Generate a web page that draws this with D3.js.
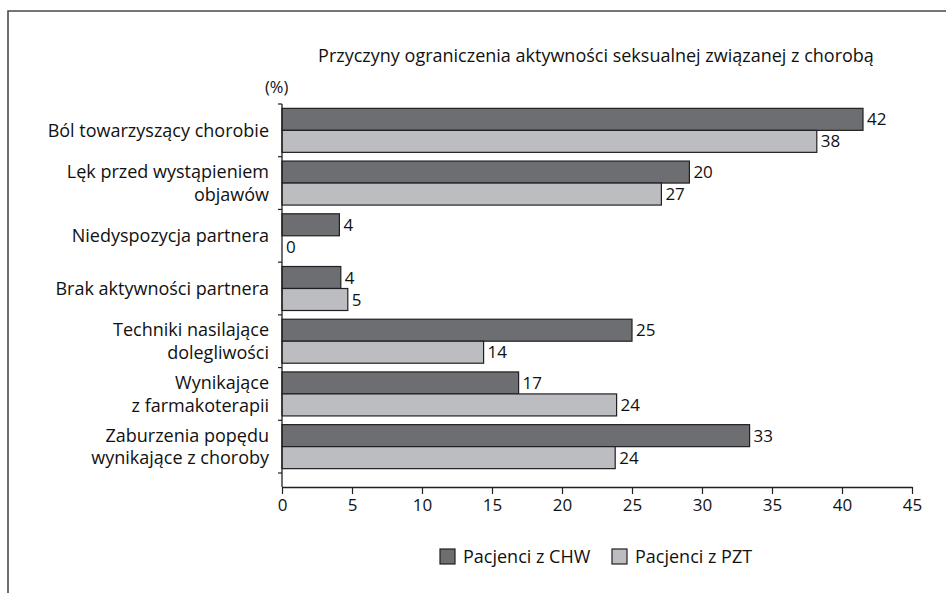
<!DOCTYPE html>
<html>
<head>
<meta charset="utf-8">
<script src="https://cdn.jsdelivr.net/npm/d3@7"></script>
<style>
  html, body { margin: 0; padding: 0; background: #fff; }
  svg { display: block; font-family: "Open Sans", "Noto Sans", sans-serif; }
</style>
</head>
<body>
<svg id="chart" width="946" height="593"></svg>
<script>
const categories = [
  "Ból towarzyszący chorobie",
  "Lęk przed wystąpieniem\nobjawów",
  "Niedyspozycja partnera",
  "Brak aktywności partnera",
  "Techniki nasilające\ndolegliwości",
  "Wynikające\nz farmakoterapii",
  "Zaburzenia popędu\nwynikające z choroby"
];
const seriesNames = ["Pacjenci z CHW", "Pacjenci z PZT"];
const chwValues = [41.5, 29.1, 4.1, 4.2, 25.0, 16.9, 33.4];
const pztValues = [38.2, 27.1, 0, 4.7, 14.4, 23.9, 23.8];
const chwLabels = ["42", "20", "4", "4", "25", "17", "33"];
const pztLabels = ["38", "27", "0", "5", "14", "24", "24"];
const xTicks = [0, 5, 10, 15, 20, 25, 30, 35, 40, 45];
const title = "Przyczyny ograniczenia aktywności seksualnej związanej z chorobą";
const unitLabel = "(%)";

const colors = ["#6d6e71", "#bcbdc0"];
const stroke = "#231f20";
const textSize = 18;
const numSize = 17;

const svg = d3.select("#chart");

// frame
svg.append("path")
  .attr("d", "M8,593 V11 H946")
  .attr("fill", "none").attr("stroke", "#4a4a4a").attr("stroke-width", 1.6);

const x = d3.scaleLinear().domain([0, 45]).range([282, 912]);
const y = d3.scaleBand().domain(categories).range([104, 473]);
const barH = 22;
const axisY = 487;

// title
svg.append("text").attr("x", 596).attr("y", 62).attr("text-anchor", "middle")
  .attr("font-size", textSize).attr("fill", "#111").text(title);
svg.append("text").attr("x", 265).attr("y", 93)
  .attr("font-size", 16.5).attr("fill", "#111").text(unitLabel);

const rows = categories.map((c, i) => ({ c, i }));
const g = svg.append("g");

// bars
[chwValues, pztValues].forEach((vals, s) => {
  g.selectAll(".bar" + s).data(rows.filter(r => vals[r.i] > 0)).enter().append("rect")
    .attr("x", x(0))
    .attr("y", r => y(r.c) + (y.bandwidth() - 2 * barH) / 2 + s * barH)
    .attr("width", r => x(vals[r.i]) - x(0))
    .attr("height", barH)
    .attr("fill", colors[s]).attr("stroke", stroke).attr("stroke-width", 1.2);
});

// value labels
[[chwValues, chwLabels], [pztValues, pztLabels]].forEach(([vals, labs], s) => {
  g.selectAll(".lab" + s).data(rows).enter().append("text")
    .attr("x", r => x(vals[r.i]) + 4)
    .attr("y", r => y(r.c) + (y.bandwidth() - 2 * barH) / 2 + s * barH + barH / 2)
    .attr("dy", "0.36em")
    .attr("font-size", numSize).attr("fill", "#111")
    .text(r => labs[r.i]);
});

// category labels
rows.forEach(r => {
  const lines = r.c.split("\n");
  const cy = y(r.c) + y.bandwidth() / 2;
  const lh = 22.5;
  const t = svg.append("text").attr("text-anchor", "end").attr("font-size", textSize).attr("fill", "#111");
  lines.forEach((ln, k) => {
    t.append("tspan").attr("x", 269).attr("y", cy + (k - (lines.length - 1) / 2) * lh).attr("dy", "0.36em").text(ln);
  });
});

// y axis
svg.append("line").attr("x1", x(0)).attr("x2", x(0)).attr("y1", 104).attr("y2", axisY)
  .attr("stroke", stroke).attr("stroke-width", 1.3);
const bounds = categories.map(c => y(c)).concat([y.range()[1]]);
svg.selectAll(".ytick").data(bounds).enter().append("line")
  .attr("x1", x(0) - 4).attr("x2", x(0)).attr("y1", d => d).attr("y2", d => d)
  .attr("stroke", stroke).attr("stroke-width", 1.2);

// x axis
const xAxis = d3.axisBottom(x).tickValues(xTicks).tickSize(7).tickPadding(5).tickSizeOuter(0);
const xg = svg.append("g").attr("transform", `translate(0,${axisY})`).call(xAxis);
xg.select(".domain").attr("stroke", stroke).attr("stroke-width", 1.3);
xg.selectAll(".tick line").attr("stroke", stroke).attr("stroke-width", 1.2);
xg.selectAll(".tick text").attr("font-size", numSize).attr("fill", "#111").attr("font-family", "'Open Sans', sans-serif");

// legend
const legX = [440, 612];
seriesNames.forEach((n, s) => {
  svg.append("rect").attr("x", legX[s]).attr("y", 549).attr("width", 15).attr("height", 15)
    .attr("fill", colors[s]).attr("stroke", stroke).attr("stroke-width", 1.2);
  svg.append("text").attr("x", legX[s] + 23).attr("y", 556.5).attr("dy", "0.36em")
    .attr("font-size", textSize).attr("fill", "#111").text(n);
});
</script>
</body>
</html>
